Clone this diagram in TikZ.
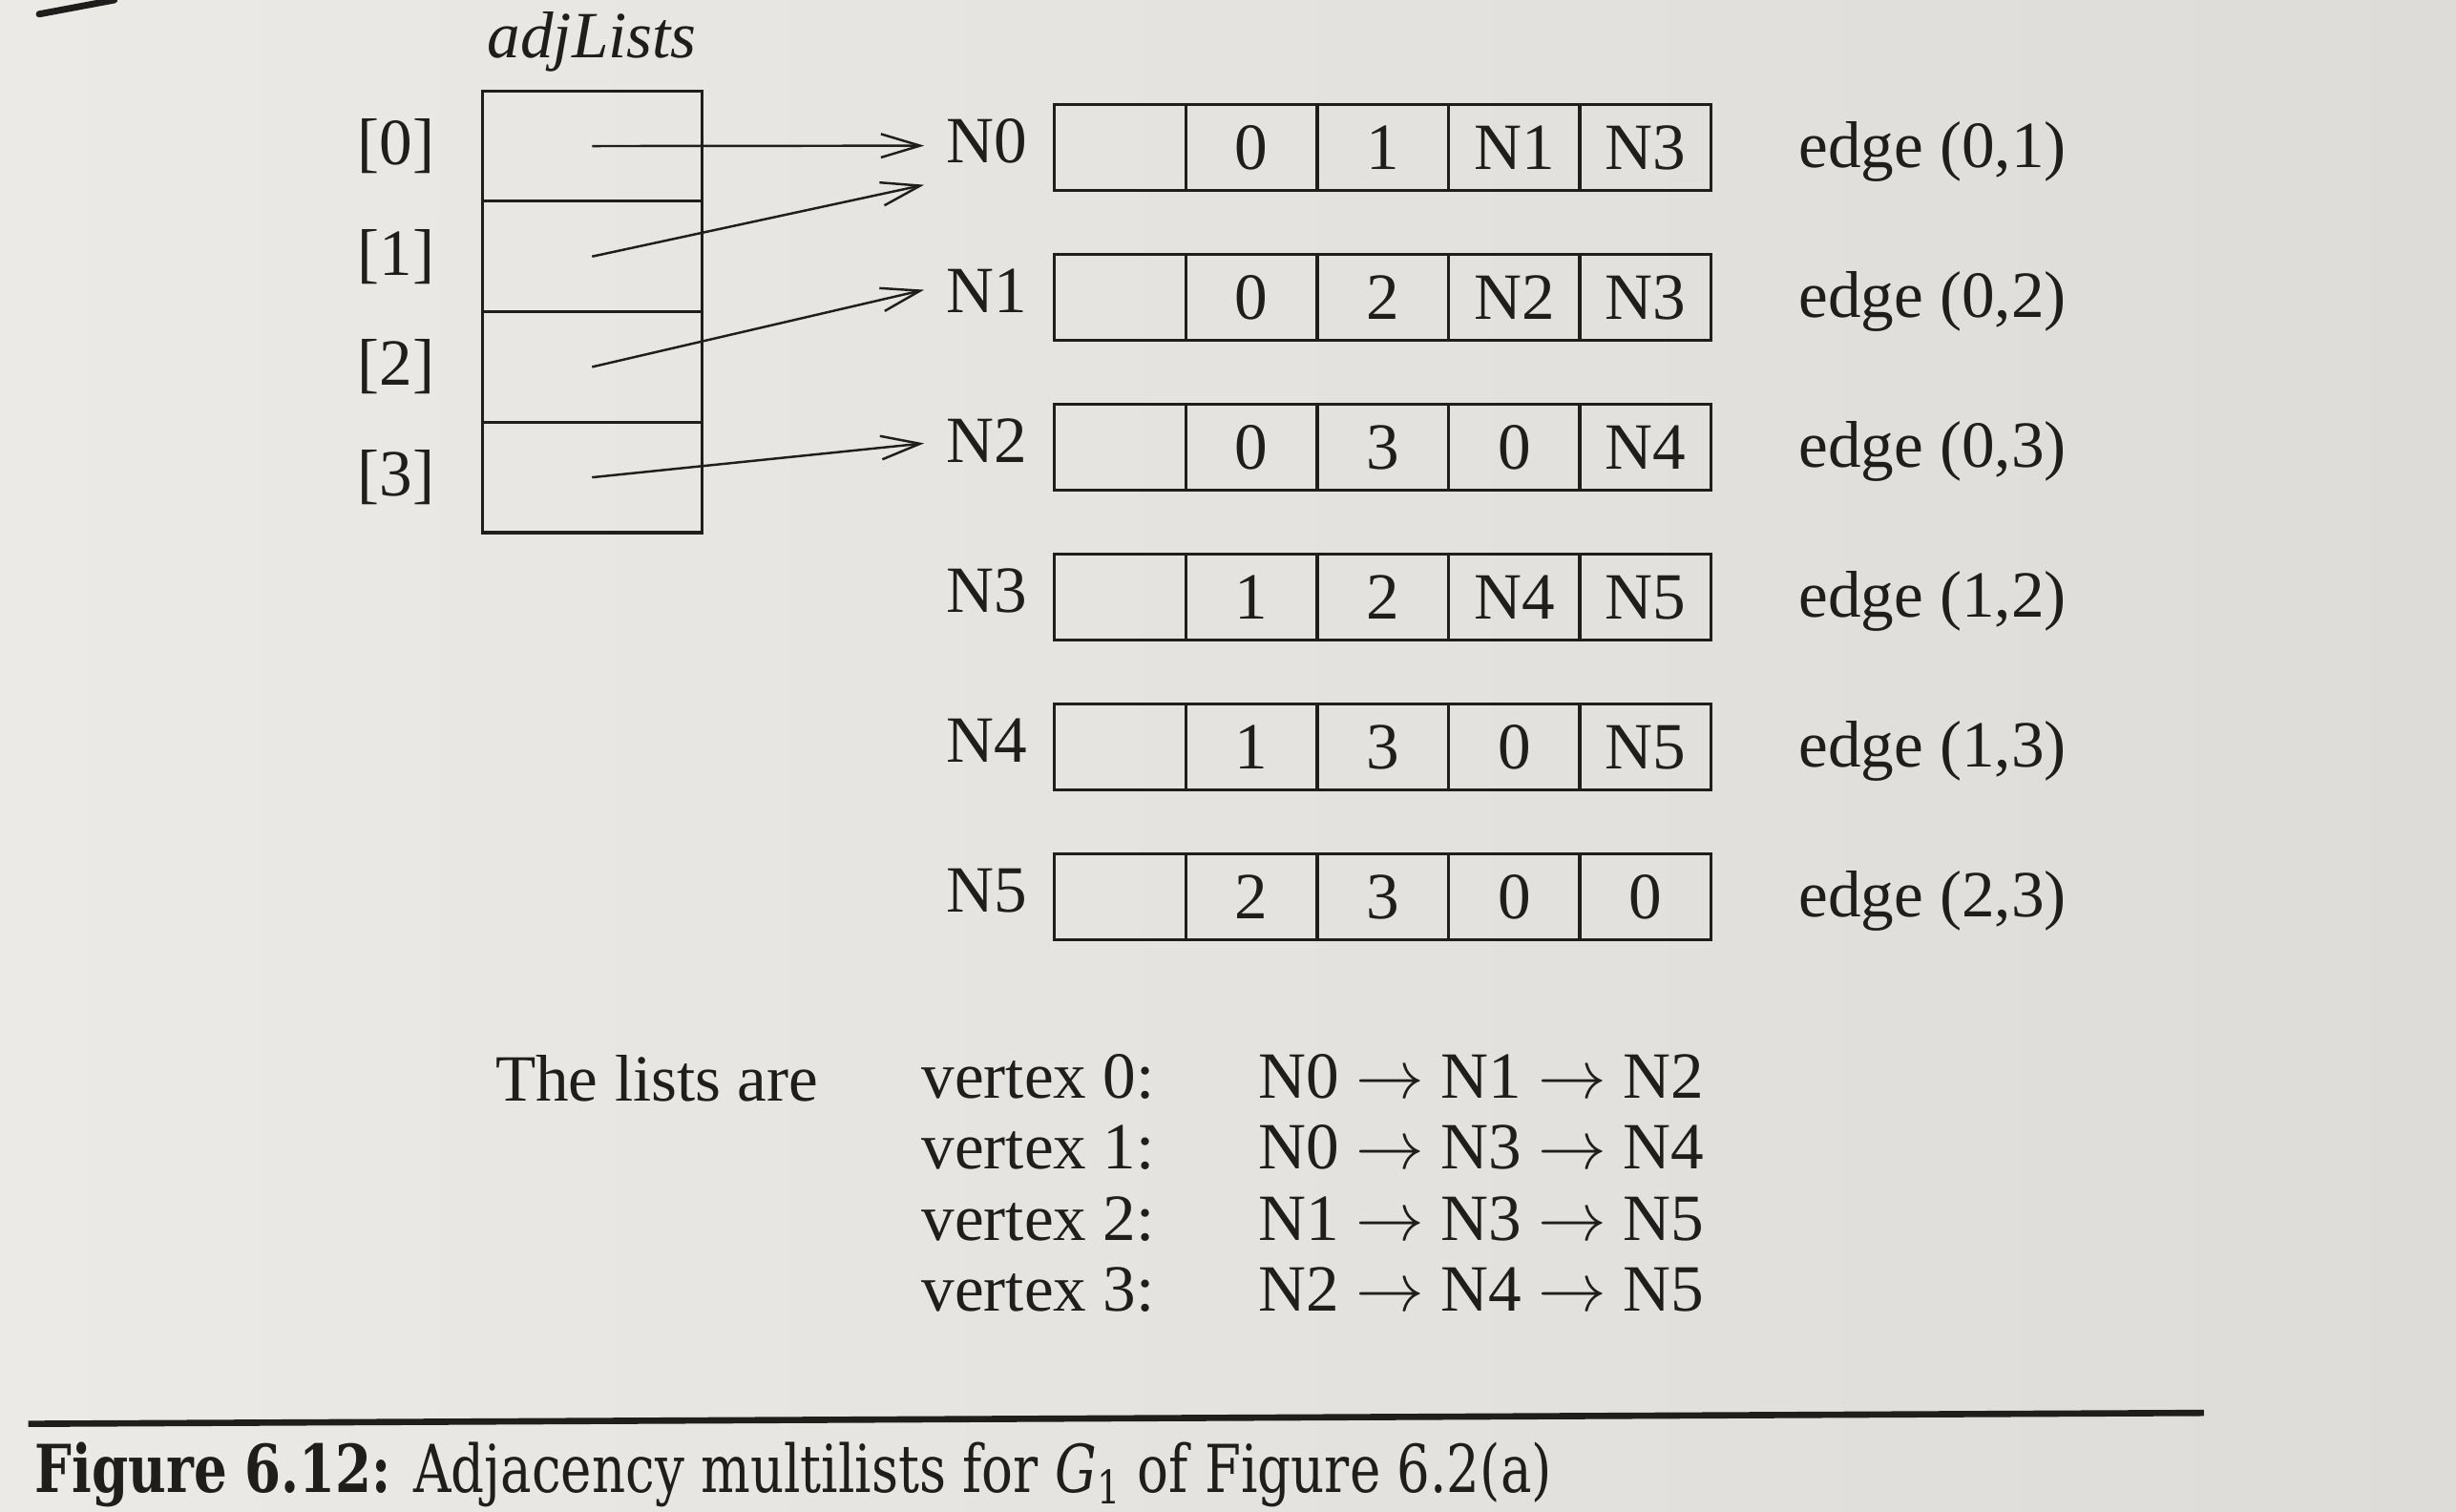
\documentclass[tikz,border=0pt]{standalone}
\usepackage{fontspec}
\setmainfont{Liberation Serif}
\newfontfamily\capfont{DejaVu Serif}
\usetikzlibrary{arrows.meta}
\definecolor{ink}{RGB}{32,29,29}
\definecolor{paperL}{RGB}{236,234,231}
\definecolor{paperR}{RGB}{222,220,216}
\begin{document}
\begin{tikzpicture}[x=0.02cm,y=-0.02cm,
  txt/.style={font=\fontsize{24}{28}\selectfont, inner sep=0pt, text=ink},
  cellbox/.style={draw=ink, line width=1.1pt, minimum width=1.68cm, minimum height=1.1cm,
    inner sep=0pt, text height=16pt, text depth=0pt, text=ink, font=\fontsize{24}{28}\selectfont},
  adjcell/.style={draw=ink, line width=1.1pt, minimum width=2.8cm, minimum height=1.41cm, inner sep=0pt},
  ptr/.style={draw=ink, line width=0.85pt, -{Straight Barb[length=0.5cm,width=0.3cm,line width=0.85pt]}}]
\shade[left color=paperL, right color=paperR] (0,0) rectangle (1568,965);
\useasboundingbox (0,0) rectangle (1568,965);
% page edge stroke
\draw[ink, line width=2.4pt, line cap=round] (25,9) -- (73,0);
% adjLists array
\node[txt, font=\fontsize{24}{28}\selectfont\itshape] (title) at (378,27) {adjLists};
\foreach \k/\yc in {0/93.25,1/163.75,2/234.25,3/304.75}{
  \node[adjcell] (a\k) at (378,\yc) {};
  \node[txt, anchor=east] (idx\k) at (278,\yc) {[\k]};
}
% multilist nodes
\foreach \a/\b/\c/\d [count=\i from 0] in {0/1/N1/N3, 0/2/N2/N3, 0/3/0/N4, 1/2/N4/N5, 1/3/0/N5, 2/3/0/0}{
  \pgfmathsetmacro\yy{94+95.7*\i}
  \node[cellbox] (c\i m) at (715,\yy) {};
  \node[cellbox] (c\i a) at (799,\yy) {\a};
  \node[cellbox] (c\i b) at (883,\yy) {\b};
  \node[cellbox] (c\i c) at (967,\yy) {\c};
  \node[cellbox] (c\i d) at (1050.5,\yy) {\d};
  \node[txt, anchor=base] (n\i) at (630,\yy+10) {N\i};
  \node[txt, anchor=base west] (e\i) at (1148,\yy+13) {edge (\a,\b)};
}
% pointers
\coordinate (t0) at (590,93);
\coordinate (t1) at (590,118);
\coordinate (t2) at (590,185);
\coordinate (t3) at (590,283);
\draw[ptr] (a0.center) -- (t0);
\draw[ptr] (a1.center) -- (t1);
\draw[ptr] (a2.center) -- (t2);
\draw[ptr] (a3.center) -- (t3);
% lists
\node[txt, anchor=base west] (lists) at (316,703) {The lists are};
\foreach \v/\yb/\l in {0/701/{N0 $\rightarrow$ N1 $\rightarrow$ N2},
                       1/746/{N0 $\rightarrow$ N3 $\rightarrow$ N4},
                       2/792/{N1 $\rightarrow$ N3 $\rightarrow$ N5},
                       3/837/{N2 $\rightarrow$ N4 $\rightarrow$ N5}}{
  \node[txt, anchor=base west] (v\v) at (588,\yb) {vertex \v:};
  \node[txt, anchor=base west] (l\v) at (803,\yb) {\l};
}
% caption rule and caption
\draw[ink, line width=2.3pt] (18,909) -- (1407,902);
\node[txt, anchor=base west] (cap) at (22,953)
  {\scalebox{0.79}[1]{\capfont\fontsize{24}{28}\selectfont\textbf{Figure 6.12:} Adjacency multilists for \textit{G}\textsubscript{1} of Figure 6.2(a)}};
\end{tikzpicture}
\end{document}
